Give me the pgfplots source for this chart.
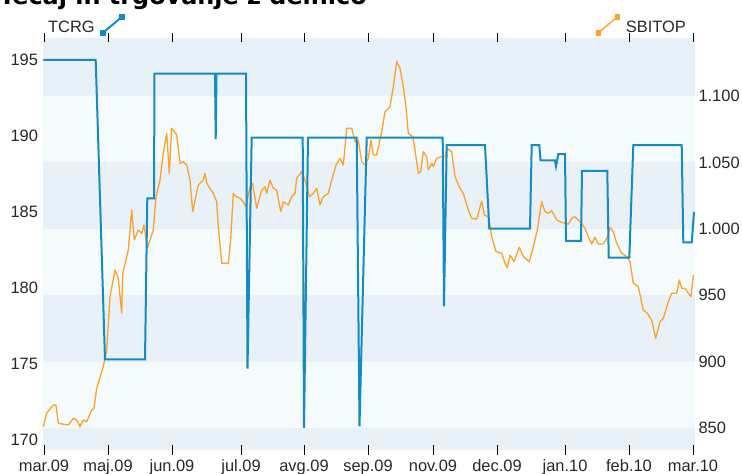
\documentclass[border=0pt]{standalone}
\usepackage{fontspec}
\setmainfont{Liberation Sans}
\newfontfamily\titlefont{DejaVu Sans}
\usepackage{pgfplots}
\pgfplotsset{compat=1.18}
\usepackage{pgfplotstable}

\definecolor{tcrgblue}{RGB}{20,140,195}
\definecolor{sbiorange}{RGB}{255,160,40}
\definecolor{banddark}{RGB}{232,240,248}
\definecolor{bandlight}{RGB}{245,251,253}
\definecolor{labelgray}{RGB}{40,40,40}

% x = position along the time axis (ticks at the month labels)
\pgfplotstableread{
x y
43.3 195.0
95.7 195.0
105 175.3
145 175.3
147.3 185.9
154 185.9
154.5 194.1
215 194.1
215.7 189.8
216.5 194.1
246 194.1
247.5 174.7
251.7 189.9
302.7 189.9
304 170.8
308 189.9
356.7 189.9
359.5 170.9
366.7 189.9
442.7 189.9
444 178.8
446.7 189.4
485 189.4
489.3 183.9
530 183.9
531.7 189.4
539.3 189.4
540.5 188.4
555 188.4
556 188.0
558.3 188.8
565 188.8
566 183.1
581 183.1
582 187.7
607.3 187.7
608.7 182.0
629.3 182.0
633.3 189.4
681.7 189.4
683.3 183.0
691.7 183.0
694 185.0
}\tcrg

\pgfplotstableread{
x y
43.3 851.0
46.7 861.3
53.3 867.3
56 867.3
58.3 853.5
68.3 852.3
73.3 857.3
76.7 856.0
80 851.0
83.3 856.0
86.7 854.7
91.7 863.6
94 864.8
96.7 879.9
103.3 896.2
106.7 908.7
110 948.9
115 969.0
118.3 962.7
121.7 936.4
122.7 966.5
128.3 984.0
131.7 1014.2
134.3 991.6
138.3 999.1
141.7 996.6
144 1002.9
147.3 985.3
153.3 999.1
156 1024.2
160 1036.7
163.3 1056.9
166.7 1071.9
169.3 1041.8
171.7 1075.7
176.7 1070.6
180 1049.3
183.3 1050.5
186.7 1048.0
190 1036.7
192.7 1012.9
198.3 1033.0
203.3 1036.7
205 1041.8
206.7 1034.3
213.3 1026.7
216.7 1020.4
218.3 1001.6
221.7 974.0
228.3 974.0
230.7 991.6
233.3 1026.7
236 1024.2
240 1023.0
243.3 1020.4
246 1016.6
250 1031.7
252.7 1034.3
256.7 1015.4
261.7 1029.2
265 1031.7
266.7 1026.7
270 1036.7
273.3 1030.5
276.7 1029.2
280.7 1012.9
283.3 1020.4
288.3 1017.9
291.7 1024.2
295 1026.7
296.7 1038.0
301.7 1043.0
305 1036.7
309.3 1024.2
313.3 1026.7
316.7 1030.5
320 1017.9
323.3 1024.2
328.3 1026.7
331.7 1036.7
336 1048.0
340 1053.1
343.3 1048.0
346.7 1075.7
351.7 1075.7
355 1065.6
358.3 1066.9
361.7 1050.5
365 1048.0
368.3 1053.1
371 1066.9
373.3 1055.6
376.7 1055.6
381.7 1073.1
385 1088.2
390 1091.9
393.3 1107.0
396.7 1125.8
400 1120.9
403.3 1107.0
406 1091.9
408.3 1071.9
412.7 1069.4
415 1059.3
418.3 1041.8
420.7 1043.0
423.3 1058.1
426.7 1054.3
428.3 1044.3
431.7 1049.3
433.3 1046.8
436.7 1053.1
441.7 1054.3
445 1054.3
447.3 1060.6
451.7 1058.1
455 1039.2
460 1030.5
463.3 1026.7
468.3 1014.2
471.7 1007.9
476.7 1007.2
481.7 1020.9
484.3 1010.4
488.3 1009.1
491.7 994.1
496 982.8
501.7 981.6
505 974.0
507.3 970.7
510 980.3
514 975.2
519.3 986.1
523.3 979.0
529.3 975.2
533.3 986.5
537.3 999.1
541.7 1020.4
545 1012.9
548.3 1011.7
551.7 1013.6
556.7 1006.6
560 1005.3
565 1004.1
568.3 1003.4
571.7 1007.9
575 1009.1
580 1005.3
585 1000.4
588.3 994.1
591.7 988.6
595 993.6
598.3 988.6
603.3 988.6
607.3 993.6
610 1001.1
613.3 997.8
616.7 989.1
621.7 981.6
626.7 979.0
630 975.2
633.3 959.0
638.3 956.4
643.3 938.9
647.3 936.4
651.7 931.3
655.7 917.5
660 930.0
663.3 932.6
668.3 945.1
671.7 951.4
676.7 951.4
679.3 961.4
681.7 955.2
685 955.2
688.3 951.4
691 948.9
693.3 965.2
}\sbitop

\pgfplotsset{
  base/.style={
    scale only axis,
    width=652bp, height=412bp,
    at={(43bp,24bp)}, anchor=south west,
    xmin=43, xmax=695,
    axis line style={draw=none},
    ytick style={draw=none},
    tick label style={font=\fontsize{16.5}{18}\selectfont, text=labelgray},
    /pgf/number format/assume math mode=true,
    clip=false,
  },
  % icon after the text: keep a gap on its left
  iconleftgap/.style={
    legend image code/.code={
      \path (0bp,0bp);
      \draw[##1, mark=square*, mark size=2bp, mark options={solid}]
        plot coordinates {(5bp,-5.5bp) (24bp,10.5bp)};
    },
  },
  % icon before the text: keep a gap on its right
  iconrightgap/.style={
    legend image code/.code={
      \path (25bp,0bp);
      \draw[##1, mark=square*, mark size=2bp, mark options={solid}]
        plot coordinates {(0bp,-5.5bp) (19bp,10.5bp)};
    },
  },
}

\begin{document}
\begin{tikzpicture}
\useasboundingbox (0,0) rectangle (742bp,474bp);

\node[anchor=base west, inner sep=0, font=\titlefont\bfseries\fontsize{24}{28}\selectfont]
  at (-1bp,469bp) {Tečaj in trgovanje z delnico};

% SBITOP (right axis) with the banded background
\begin{axis}[base,
  axis background/.style={fill=bandlight},
  ymin=833.43, ymax=1143.67,
  yticklabel pos=right,
  ytick={850,900,950,1000,1050,1100},
  yticklabels={850,900,950,1.000,1.050,1.100},
  xtick=\empty,
  iconrightgap,
  legend style={draw=none, fill=none, at={(1,1)}, anchor=east,
    xshift=-4bp, yshift=12.5bp, font=\fontsize{16.5}{18}\selectfont,
    text=labelgray},
]
\fill[banddark] (axis cs:43,1100) rectangle (axis cs:695,1143.67);
\fill[banddark] (axis cs:43,1000) rectangle (axis cs:695,1050);
\fill[banddark] (axis cs:43,900) rectangle (axis cs:695,950);
\fill[banddark] (axis cs:43,833.43) rectangle (axis cs:695,850);
\addplot[sbiorange, line width=1.3bp, line join=round] table[x=x, y=y] {\sbitop};
\addlegendentry{SBITOP}
\end{axis}

% TCRG (left axis)
\begin{axis}[base,
  ymin=169.342, ymax=196.447,
  ytick={170,175,180,185,190,195},
  yticklabel style={xshift=3bp},
  xtick={44,108,172,241,304,368,433,497,565,629,693},
  xticklabels={mar.09,maj.09,jun.09,jul.09,avg.09,sep.09,nov.09,dec.09,jan.10,feb.10,mar.10},
  xticklabel style={yshift=-2bp},
  xtick style={draw=black, line width=1bp},
  tick align=center, major tick length=9bp,
  iconleftgap,
  legend plot pos=right,
  legend style={draw=none, fill=none, at={(0,1)}, anchor=west,
    xshift=0bp, yshift=12.5bp, font=\fontsize{16.5}{18}\selectfont,
    text=labelgray},
]
\addplot[tcrgblue, line width=2bp, line join=miter] table[x=x, y=y] {\tcrg};
\addlegendentry{TCRG}
\end{axis}
\end{tikzpicture}
\end{document}
